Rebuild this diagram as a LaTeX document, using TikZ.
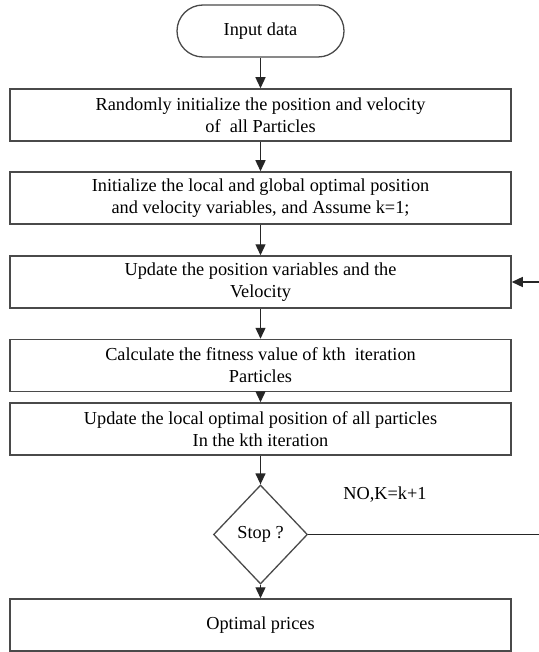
\documentclass[tikz,border=0pt]{standalone}
\usepackage{fontspec}
\setmainfont{Liberation Serif}
\usetikzlibrary{shapes.geometric,arrows.meta}
\definecolor{edge}{HTML}{4A4A4A}
\tikzset{
  txt/.style={font=\fontsize{18.3}{22}\selectfont},
  stepbox/.style={txt,draw=edge,line width=1.5pt,rectangle,minimum width=501pt,minimum height=52pt,align=center,inner sep=0pt},
  term/.style={txt,draw=edge,line width=1.3pt,rectangle,rounded corners=26pt,minimum width=167pt,minimum height=52pt},
  decide/.style={txt,draw=edge,line width=1.3pt,diamond,minimum width=94pt,minimum height=99pt,inner sep=0pt},
  flow/.style={draw=black!85,line width=1.3pt,-{Triangle[length=11pt,width=10pt]}}
}
\begin{document}
\begin{tikzpicture}[x=1pt,y=-1pt]
\useasboundingbox[fill=white] (0,0) rectangle (538,652);
\node[term] (start) at (260.5,31) {Input data};
\node[stepbox] (b1) at (260.5,115) {Randomly initialize the position and velocity\\of\ \ all Particles};
\node[stepbox] (b2) at (260.5,198) {Initialize the local and global optimal position\\and velocity variables, and Assume k=1;};
\node[stepbox] (b3) at (260.5,282) {Update the position variables and the\\Velocity};
\node[stepbox] (b4) at (260.5,365.5) {Calculate the fitness value of kth\ \ iteration\\Particles};
\node[stepbox] (b5) at (260.5,429) {Update the local optimal position of all particles\\In the kth iteration};
\node[decide] (stop) at (260.5,534.5) {Stop ?};
\node[stepbox] (b6) at (260.5,625) {Optimal prices};
\node[txt] (no) at (385,495) {NO,K=k+1};
\coordinate (turn) at (540,534.5);
\draw[flow] (start) -- (b1);
\draw[flow] (b1) -- (b2);
\draw[flow] (b2) -- (b3);
\draw[flow] (b3) -- (b4);
\draw[flow] (b4) -- (b5);
\draw[flow] (b5) -- (stop);
\draw[flow] (stop) -- (b6);
\draw[flow] (stop.east) -- (turn) |- (b3.east);
\end{tikzpicture}
\end{document}
